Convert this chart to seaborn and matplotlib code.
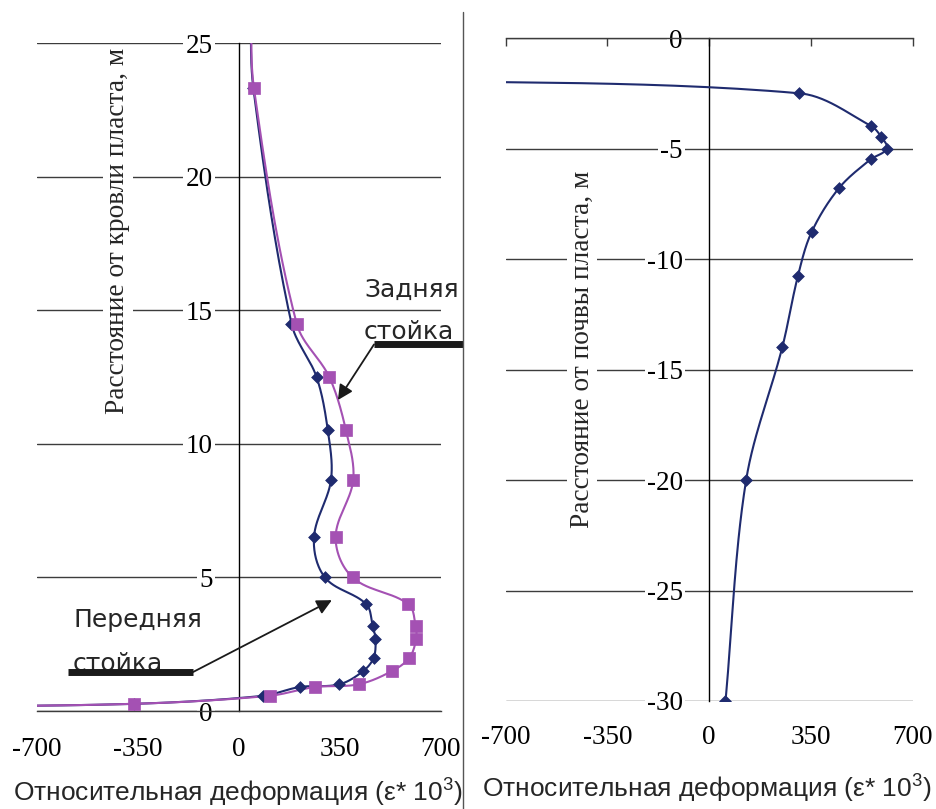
import numpy as np
import matplotlib
matplotlib.use("Agg")
import matplotlib.pyplot as plt
from matplotlib.lines import Line2D
import seaborn as sns

# Roof-side profile: depth above the seam roof (m) and relative strain (eps*10^3)
roof_depth = [26.5, 23.3, 14.5, 12.5, 10.5, 8.65, 6.5, 5.0, 4.0, 3.2, 2.7, 2.0, 1.5, 1.0, 0.9, 0.57, 0.27, 0.15]
strain_front = [40, 50, 182, 269, 308, 319, 260, 298, 441, 463, 473, 467, 431, 348, 211, 84, -363, -1200]
strain_rear = [42, 52, 200, 313, 371, 396, 335, 394, 587, 612, 614, 591, 531, 415, 264, 106, -363, -1200]

# Floor-side profile: depth below the seam floor (m)
floor_depth = [-1.85, -2.49, -3.97, -4.47, -5.0, -5.48, -6.79, -8.78, -10.77, -13.96, -20.0, -30.0]
strain_floor = [-1300, 310, 557, 592, 610, 555, 446, 352, 305, 252, 127, 56]

x_ticks = [-700, -350, 0, 350, 700]
roof_ticks = [0, 5, 10, 15, 20, 25]
floor_ticks = [0, -5, -10, -15, -20, -25, -30]

BLUE = "#1f2b6f"
PINK = "#a451b3"
GRID = "#3c3c3c"
SERIF = "Liberation Serif"
SANS = "Liberation Sans"
TICK_FS = 19.5


def smooth_path(xs, ys, kx, ky, n=30):
    """Smoothed polyline through the points: cubic Bezier segments whose
    control arms follow the neighbour direction and are a third of the
    segment length (computed in screen-like units so nothing overshoots)."""
    P = np.column_stack([np.asarray(xs, float) * kx, np.asarray(ys, float) * ky])
    m = len(P)
    dirs = np.zeros_like(P)
    for i in range(m):
        a = P[max(i - 1, 0)]
        b = P[min(i + 1, m - 1)]
        d = b - a
        dirs[i] = d / (np.hypot(*d) or 1.0)
    t = np.linspace(0, 1, n, endpoint=False)[:, None]
    out = []
    for i in range(m - 1):
        p1, p2 = P[i], P[i + 1]
        L = np.hypot(*(p2 - p1)) / 3.0
        c1 = p1 + dirs[i] * L
        c2 = p2 - dirs[i + 1] * L
        seg = ((1 - t) ** 3) * p1 + 3 * ((1 - t) ** 2) * t * c1 \
            + 3 * (1 - t) * t ** 2 * c2 + t ** 3 * p2
        out.append(seg)
    out.append(P[-1][None])
    path = np.vstack(out)
    return path[:, 0] / kx, path[:, 1] / ky


def draw_series(ax, xs, ys, color, marker, size, kx, ky):
    sx, sy = smooth_path(xs, ys, kx, ky)
    sns.lineplot(x=sx, y=sy, sort=False, estimator=None, color=color,
                 linewidth=1.5, ax=ax, zorder=3)
    sns.scatterplot(x=xs, y=ys, marker=marker, s=size, color=color,
                    edgecolor=color, linewidth=0.5, ax=ax, zorder=4)


sns.set_style("white")
plt.rcParams["font.family"] = [SERIF, "DejaVu Serif"]
plt.rcParams["mathtext.fontset"] = "custom"
plt.rcParams["mathtext.rm"] = SANS
plt.rcParams["mathtext.it"] = SANS + ":italic"

fig = plt.figure(figsize=(9.36, 8.09), dpi=100)
axL = fig.add_axes([0.0395, 0.1211, 0.4316, 0.8257])
axR = fig.add_axes([0.5403, 0.1335, 0.4348, 0.8192])

# ---- roof side (left) ----
draw_series(axL, strain_front, roof_depth, BLUE, "D", 36, 0.2886, 26.72)
draw_series(axL, strain_rear, roof_depth, PINK, "s", 64, 0.2886, 26.72)
axL.set_xlim(-700, 700)
axL.set_ylim(0, 25)
axL.set_yticks(roof_ticks)
axL.set_xticks(x_ticks)
axL.set_xticklabels([str(v) for v in x_ticks])
axL.set_yticklabels([str(v) for v in roof_ticks])

# ---- floor side (right) ----
draw_series(axR, strain_floor, floor_depth, BLUE, "D", 36, 0.2907, 22.09)
axR.set_xlim(-700, 700)
axR.set_ylim(-30, 0)
axR.set_yticks(floor_ticks)
axR.set_xticks(x_ticks)
axR.set_xticklabels([str(v) for v in x_ticks])
axR.set_yticklabels([str(v) for v in floor_ticks])

for ax in (axL, axR):
    ax.set_xlabel("")
    ax.set_ylabel("")
    ax.set_facecolor("none")
    ax.grid(axis="y", color=GRID, linewidth=1.0)
    ax.grid(axis="x", visible=False)
    ax.spines["right"].set_visible(False)
    ax.spines["left"].set_position(("data", 0))
    ax.spines["left"].set_color("black")
    ax.spines["left"].set_linewidth(1.0)
    ax.tick_params(axis="y", direction="out", length=7, width=1, pad=12,
                   labelsize=TICK_FS, colors="black")
    for lab in ax.get_yticklabels():
        lab.set_fontfamily(SERIF)
        lab.set_bbox(dict(facecolor="white", edgecolor="none", pad=1.5))
    for lab in ax.get_xticklabels():
        lab.set_fontfamily(SERIF)

# left: x axis at the bottom (y = 0)
axL.spines["top"].set_visible(False)
axL.spines["bottom"].set_color(GRID)
axL.spines["bottom"].set_linewidth(1.0)
axL.tick_params(axis="x", direction="out", length=8, width=1, pad=11,
                labelsize=TICK_FS, colors="black")
axL.xaxis.set_tick_params(color=GRID)

# right: axis line at the top (y = 0), labels at the bottom
axR.spines["bottom"].set_visible(False)
axR.spines["top"].set_color(GRID)
axR.spines["top"].set_linewidth(1.0)
axR.tick_params(axis="x", which="both", bottom=True, top=True,
                labelbottom=True, labeltop=False, direction="in",
                labelsize=TICK_FS, colors="black")
axR.tick_params(axis="x", bottom=False, pad=17)
axR.tick_params(axis="x", top=True, length=6, width=1, color=GRID)

# axis titles, sitting on the plot area with a white backing
axL.text(0.2005, 0.7186, "Расстояние от кровли пласта, м", transform=axL.transAxes,
         rotation=90, ha="center", va="center", fontsize=19.7, family=SERIF,
         bbox=dict(facecolor="white", edgecolor="none", pad=2), zorder=5)
axR.text(0.1875, 0.5304, "Расстояние от почвы пласта, м", transform=axR.transAxes,
         rotation=90, ha="center", va="center", fontsize=19.7, family=SERIF,
         bbox=dict(facecolor="white", edgecolor="none", pad=2), zorder=5)

xlab = "Относительная деформация (ε* 10$^{3}$)"
fig.text(0.2543, 0.0198, xlab, ha="center", va="center", fontsize=19, family=SANS)
fig.text(0.7553, 0.0247, xlab, ha="center", va="center", fontsize=19, family=SANS)

# prop callouts
ANN = "DejaVu Sans"
ANN_FS = 18
axL.text(-575, 3.14, "Передняя", fontsize=ANN_FS, family=ANN, va="baseline", zorder=6)
axL.text(-575, 1.50, "стойка", fontsize=ANN_FS, family=ANN, va="baseline", zorder=6)
axL.plot([-593, -159], [1.46, 1.46], color="#1a1a1a", linewidth=5,
         solid_capstyle="butt", zorder=7, clip_on=False)
axL.annotate("", xy=(322, 4.15), xytext=(-159, 1.46),
             arrowprops=dict(arrowstyle="-|>,head_length=0.9,head_width=0.45",
                             color="#1a1a1a", lw=1.3, shrinkA=0, shrinkB=0),
             zorder=7, annotation_clip=False)

axL.text(433, 15.49, "Задняя", fontsize=ANN_FS, family=ANN, va="baseline", zorder=6)
axL.text(433, 13.92, "стойка", fontsize=ANN_FS, family=ANN, va="baseline", zorder=6)
axL.plot([468, 776], [13.72, 13.72], color="#1a1a1a", linewidth=5,
         solid_capstyle="butt", zorder=7, clip_on=False)
axL.annotate("", xy=(343, 11.64), xytext=(468, 13.72),
             arrowprops=dict(arrowstyle="-|>,head_length=0.9,head_width=0.45",
                             color="#1a1a1a", lw=1.3, shrinkA=0, shrinkB=0),
             zorder=7, annotation_clip=False)

# divider between the two panels
fig.add_artist(Line2D([463 / 936, 463 / 936], [1 - 12 / 809, 0],
                      transform=fig.transFigure, color="#555555", linewidth=1.0))

fig.savefig("out.png", dpi=100)
